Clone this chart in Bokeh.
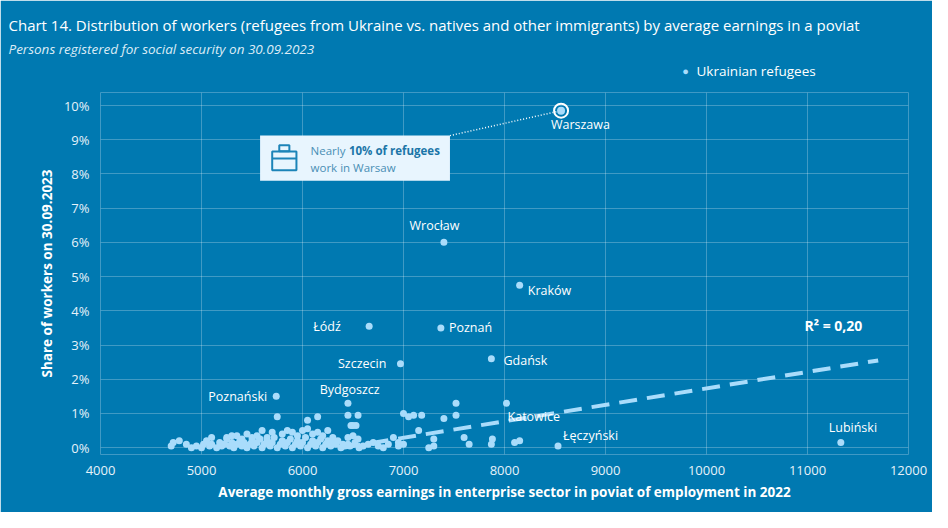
from bokeh.core.properties import value
from bokeh.embed import file_html
from bokeh.models import ColumnDataSource, Label, FixedTicker, Range1d, CustomJSTickFormatter, Title
from bokeh.plotting import figure
from bokeh.resources import INLINE

BG = "#0079b1"
DOT = "#a9dcfb"
FONT = "Open Sans"

# named poviats: average earnings (PLN), share of refugee workers (%)
city_names = ["Wrocław", "Kraków", "Łódź", "Poznań", "Szczecin", "Gdańsk",
              "Poznański", "Bydgoszcz", "Katowice", "Łęczyński", "Lubiński"]
city_x = [7400, 8150, 6660, 7370, 6970, 7870, 5740, 6450, 8020, 8530, 11330]
city_y = [6.0, 4.75, 3.55, 3.5, 2.45, 2.6, 1.5, 1.3, 1.3, 0.05, 0.15]
warsaw_x = 8560
warsaw_y = 9.85

# remaining poviats (read approximately)
other_x = [4700, 4720, 4780, 4850, 4900, 4950, 5000, 5020, 5050, 5080, 5100, 5150, 5180,
           5200, 5230, 5250, 5280, 5300, 5320, 5350, 5380, 5400, 5420, 5450, 5480, 5500,
           5520, 5550, 5580, 5600, 5620, 5650, 5680, 5700, 5720, 5750, 5780, 5800, 5830,
           5850, 5880, 5900, 5930, 5950, 5980, 6000, 6030, 6050, 6080, 6100, 6130, 6150,
           6180, 6200, 6230, 6250, 6280, 6300, 6330, 6350, 6380, 6400,
           5300, 5450, 5600, 5650, 5550, 5800, 5900, 5950, 6000, 6050, 6100, 6150, 6250,
           5100, 5250, 5350, 5500, 5700, 5850, 6200, 6300, 5400, 5750, 6050, 6150,
           6450, 6480, 6500, 6530, 6550, 6450, 6500, 6550, 6450, 6520, 6470, 6560, 6600,
           6650, 6700, 6750, 6850, 6900, 6950, 7000, 7050, 7100, 7180, 7150, 7300, 7400,
           7520, 7520, 7600, 7650, 7880, 7870, 8100, 8150, 7300, 6800, 6950, 7250, 7000]
other_y = [0.05, 0.15, 0.2, 0.1, 0.0, 0.05, 0.0, 0.1, 0.2, 0.05, 0.1, 0.0, 0.15,
           0.05, 0.1, 0.25, 0.05, 0.15, 0.0, 0.1, 0.2, 0.05, 0.15, 0.0, 0.1, 0.2,
           0.05, 0.15, 0.25, 0.0, 0.1, 0.2, 0.05, 0.15, 0.3, 0.0, 0.1, 0.2, 0.05,
           0.15, 0.25, 0.0, 0.1, 0.2, 0.05, 0.15, 0.3, 0.0, 0.1, 0.2, 0.05, 0.15,
           0.25, 0.0, 0.1, 0.2, 0.05, 0.15, 0.1, 0.2, 0.0, 0.1,
           0.35, 0.4, 0.5, 0.3, 0.35, 0.4, 0.45, 0.35, 0.5, 0.55, 0.4, 0.45, 0.5,
           0.3, 0.3, 0.35, 0.3, 0.45, 0.5, 0.35, 0.3, 0.25, 0.9, 0.8, 0.9,
           0.95, 0.65, 0.65, 0.65, 0.95, 0.3, 0.35, 0.25, 0.1, 0.15, 0.05, 0.0, 0.05,
           0.1, 0.15, 0.05, 0.1, 0.3, 0.05, 1.0, 0.9, 0.95, 0.95, 0.5, 0.05, 0.85,
           1.3, 0.95, 0.3, 0.1, 0.25, 0.1, 0.15, 0.2, 0.25, 0.0, 0.15, 0.0, 0.1]

trend_x = [6400, 11700]
trend_y = [0.0, 2.55]

x_ticks = [4000, 5000, 6000, 7000, 8000, 9000, 10000, 11000, 12000]
y_ticks = [0, 1, 2, 3, 4, 5, 6, 7, 8, 9, 10]

p = figure(width=932, height=512, output_backend="svg", toolbar_location=None,
           x_range=Range1d(4000, 12000), y_range=Range1d(-0.2, 10.38),
           min_border_left=100, min_border_right=24, min_border_top=92, min_border_bottom=58,
           background_fill_color=BG, border_fill_color=BG, outline_line_color=None)

for ax in (p.xaxis, p.yaxis):
    ax.axis_line_color = None
    ax.major_tick_line_color = None
    ax.minor_tick_line_color = None
    ax.major_label_text_color = "#e6f2fa"
    ax.major_label_text_font = FONT
    ax.major_label_text_font_size = "13px"
    ax.axis_label_text_color = "white"
    ax.axis_label_text_font = FONT
    ax.axis_label_text_font_style = "bold"
    ax.axis_label_text_font_size = "13.5px"
p.xaxis.ticker = FixedTicker(ticks=x_ticks)
p.yaxis.ticker = FixedTicker(ticks=y_ticks)
p.yaxis.formatter = CustomJSTickFormatter(code="return tick + '%'")
p.xaxis.axis_label = "Average monthly gross earnings in enterprise sector in poviat of employment in 2022"
p.yaxis.axis_label = "Share of workers on 30.09.2023"
p.grid.grid_line_color = "white"
p.grid.grid_line_alpha = 0.25

# callout box with briefcase icon
ICON = "#1c84b8"
p.quad(left=[5580], right=[7460], bottom=[7.8], top=[9.12], fill_color="#e8f5fe", line_color=None)
p.line([7460, warsaw_x], [9.12, warsaw_y], line_color="white", line_dash="1 2", line_width=1.5)
p.rect([5820], [8.38], width=[240], height=[0.55], fill_color=None, line_color=ICON, line_width=2)
p.rect([5820], [8.75], width=[100], height=[0.18], fill_color=None, line_color=ICON, line_width=2)
p.line([5700, 5940], [8.45, 8.45], line_color=ICON, line_width=2)
p.text([6080], [8.68], text=["Nearly"], text_font=value(FONT), text_font_size="11.5px",
       text_color="#4a8fb5", text_baseline="middle")
p.text([6460], [8.68], text=["10% of refugees"], text_font=value(FONT), text_font_size="11.5px",
       text_font_style="bold", text_color="#1b75a8", text_baseline="middle")
p.text([6080], [8.2], text=["work in Warsaw"], text_font=value(FONT), text_font_size="11.5px",
       text_color="#4a8fb5", text_baseline="middle")

p.line(trend_x, trend_y, line_color=DOT, line_width=4, line_dash="18 10")
p.text([10970], [3.57], text=["R² = 0,20"], text_font=value(FONT), text_font_size="14px",
       text_font_style="bold", text_color="white", text_baseline="middle")

p.scatter(other_x, other_y, size=7, fill_color=DOT, line_color=None)
src = ColumnDataSource(data=dict(x=city_x, y=city_y, name=city_names))
p.scatter("x", "y", source=src, size=7, fill_color=DOT, line_color=None)
p.scatter([warsaw_x], [warsaw_y], size=14, fill_color=None, line_color="white", line_width=2)
p.scatter([warsaw_x], [warsaw_y], size=8, fill_color=DOT, line_color=None)

offsets = {"Wrocław": (-340, 0.5, "left"), "Kraków": (80, -0.15, "left"), "Łódź": (-280, 0, "right"),
           "Poznań": (80, 0, "left"), "Szczecin": (-140, 0, "right"), "Gdańsk": (120, -0.05, "left"),
           "Poznański": (-90, 0, "right"), "Bydgoszcz": (-280, 0.4, "left"), "Katowice": (10, -0.4, "left"),
           "Łęczyński": (50, 0.3, "left"), "Lubiński": (-120, 0.45, "left")}
for name, x, y in zip(city_names, city_x, city_y):
    dx, dy, align = offsets[name]
    p.text([x + dx], [y + dy], text=[name], text_font=value(FONT), text_font_size="12.5px",
           text_color="white", text_align=align, text_baseline="middle")
p.text([warsaw_x - 100], [9.45], text=["Warszawa"], text_font=value(FONT), text_font_size="12.5px",
       text_color="white", text_baseline="middle")

# legend in the top border panel, next to the plot
p.add_layout(Label(x=585, y=22, x_units="screen", y_units="screen", text="●", text_font=FONT,
                   text_font_size="11px", text_color=DOT, text_align="center",
                   text_baseline="middle"), "above")
p.add_layout(Label(x=596, y=7, x_units="screen", y_units="screen", text="Ukrainian refugees",
                   text_font=FONT, text_font_size="13.5px", text_color="white",
                   text_baseline="middle"), "above")

# titles (subtitle first: later titles stack further out)
p.add_layout(Title(text="Persons registered for social security on 30.09.2023", align="left",
                   offset=-92, text_font=FONT, text_font_size="13.5px", text_font_style="italic",
                   text_color="#dcecf6", standoff=4), "above")
p.add_layout(Title(text="Chart 14. Distribution of workers (refugees from Ukraine vs. natives and other immigrants) by average earnings in a poviat",
                   align="left", offset=-92, text_font=FONT, text_font_size="15px",
                   text_font_style="normal", text_color="white", standoff=2), "above")

open("out.html", "w").write(file_html(p, INLINE))
